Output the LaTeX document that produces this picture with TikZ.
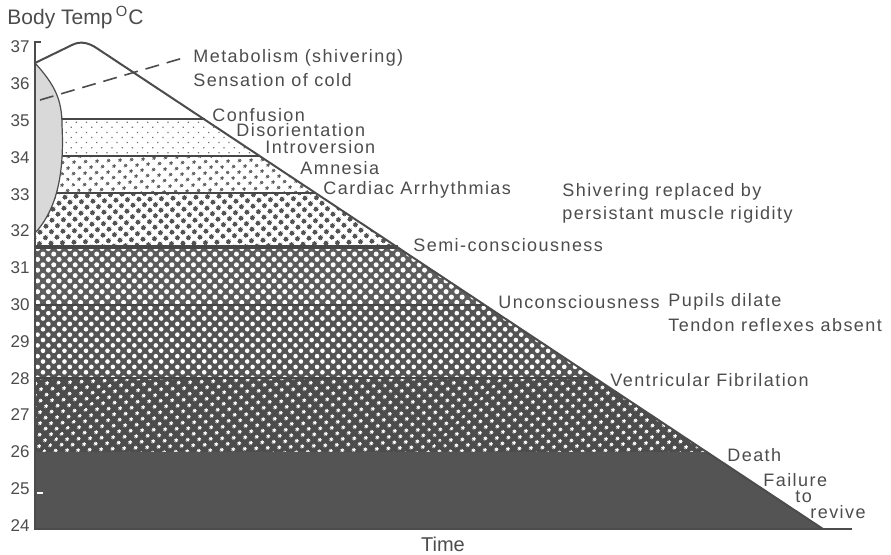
\documentclass[tikz,border=0pt]{standalone}
\usepackage{fontspec}
\setmainfont{Liberation Sans}
\newfontfamily\lblfont[LetterSpace=8]{Liberation Sans}
\usetikzlibrary{patterns.meta,positioning}
\definecolor{ink}{gray}{0.3}

\tikzset{
  lbl/.style={font=\lblfont\fontsize{9}{11}\selectfont, text=ink, inner sep=1pt, anchor=west},
  num/.style={font=\fontsize{8.5}{10}\selectfont, text=ink, inner sep=0pt, anchor=east},
  zone/.style n args={4}{preaction={fill=#1}, pattern={Dots[distance=#2, radius=#3, angle=45]}, pattern color=#4},
  zoneA/.style={zone={white}{3.6pt}{0.45pt}{black!55}},
  zoneB/.style={zone={white}{4pt}{0.9pt}{black!62}},
  zoneC/.style={zone={white}{4pt}{1.3pt}{black!68}},
  zoneD/.style={zone={black!64}{3.8pt}{1.25pt}{white}},
  zoneE/.style={zone={black!67}{3.8pt}{1.15pt}{white}},
  zoneF/.style={zone={black!70}{4pt}{0.95pt}{white}},
  zoneG/.style={fill=black!67},
  edgeline/.style={ink, line width=1pt},
  bandline/.style={black!72, line width=1.4pt},
}

\begin{document}
\begin{tikzpicture}[x=0.5pt, y=-0.5pt]
  \useasboundingbox (0,0) rectangle (891,555);

  \foreach \ya/\yb/\st in {119/156/zoneA, 156/193/zoneB, 193/247/zoneC, 247/305/zoneD, 305/378/zoneE, 378/452/zoneF, 452/529/zoneG}
    \path[\st] (35,\ya) -- ({203+(\ya-118)*1.5085},\ya) -- ({203+(\yb-118)*1.5085},\yb) -- (35,\yb) -- cycle;

  \foreach \y in {119,156,193,305,378}
    \draw[bandline] (35,\y) -- ({203+(\y-118)*1.5085},\y);
  \draw[bandline, line width=2pt] (35,247) -- ({203+(247-118)*1.5085},247);

  \fill[gray!30] (35,63) .. controls (55,85) and (62,100) .. (62,125) .. controls (64,165) and (60,205) .. (36,232) -- cycle;
  \draw[ink, line width=0.6pt] (35,63) .. controls (55,85) and (62,100) .. (62,125) .. controls (64,165) and (60,205) .. (36,232);

  \draw[edgeline] (35,63) -- (72,45) .. controls (80,41) and (88,42) .. (98,49) -- (823,529);
  \draw[edgeline, line width=1.4pt] (41,42) -- (35,42) -- (35,529) -- (852,529);
  \draw[white, line width=1pt] (37,493) -- (43,493);

  \foreach \t in {24,...,37}
    \node[num] (n\t) at (30,{47+(37-\t)*36.8}) {\t};

  \node[font=\fontsize{10.5}{12}\selectfont, text=ink, anchor=west, inner sep=0pt] (title) at (7,18) {Body Temp\,\textsuperscript{O}C};
  \node[font=\fontsize{10}{12}\selectfont, text=ink] (time) at (443,544) {Time};

  \node[lbl] (m1) at (191,58) {Metabolism (shivering)};
  \node[lbl, below=11pt of m1.west, anchor=west] (m2) {Sensation of cold};
  \coordinate (d0) at (40,100);
  \draw[ink, line width=0.8pt, dash pattern=on 7pt off 4pt] (d0) -- ([xshift=-4pt]m1.west);

  \node[lbl] (c1) at (210,115) {Confusion};
  \node[lbl] (c2) at (234,130) {Disorientation};
  \node[lbl] (c3) at (263,147) {Introversion};
  \node[lbl] (c4) at (298,168) {Amnesia};
  \node[lbl] (c5) at (321,190) {Cardiac Arrhythmias};

  \node[lbl] (r1) at (560,192) {Shivering replaced by};
  \node[lbl, below=11.5pt of r1.west, anchor=west] (r2) {persistant muscle rigidity};

  \node[lbl] (s1) at (411,245) {Semi-consciousness};
  \node[lbl] (u1) at (496,302) {Unconsciousness};
  \node[lbl] (p1) at (666,302) {Pupils dilate};
  \node[lbl, below=11.5pt of p1.west, anchor=west] (p2) {Tendon reflexes absent};
  \node[lbl] (v1) at (608,380) {Ventricular Fibrilation};

  \node[lbl] (e1) at (725,455) {Death};
  \node[lbl] (f1) at (761,480) {Failure};
  \node[lbl] (f2) at (793,497) {to};
  \node[lbl] (f3) at (808,512) {revive};
\end{tikzpicture}
\end{document}
